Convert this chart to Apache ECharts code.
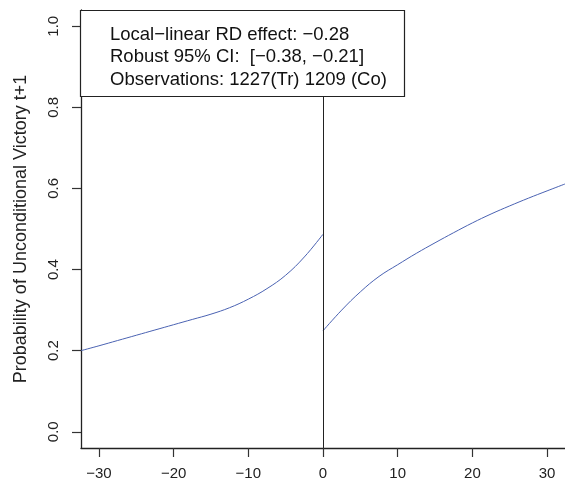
<!DOCTYPE html>
<html>
<head>
<meta charset="utf-8">
<script src="https://cdn.jsdelivr.net/npm/echarts@6/dist/echarts.min.js"></script>
<style>
  html, body { margin: 0; padding: 0; background: #fff; }
  #main { width: 565px; height: 487px; }
</style>
</head>
<body>
<div id="main"></div>
<script>
// fitted curves
var leftX = [-32.4, -30, -27.5, -25, -22.5, -20, -17.5, -15, -12.5, -10, -7.5, -5, -2.5, 0];
var leftY = [0.200, 0.212, 0.225, 0.238, 0.251, 0.264, 0.277, 0.290, 0.306, 0.327, 0.353, 0.386, 0.431, 0.487];
var rightX = [0, 2.5, 5, 7.5, 10, 12.5, 15, 17.5, 20, 22.5, 25, 27.5, 30, 32.4];
var rightY = [0.249, 0.300, 0.345, 0.383, 0.412, 0.440, 0.466, 0.491, 0.515, 0.537, 0.557, 0.576, 0.594, 0.611];

var xTicks = [-30, -20, -10, 0, 10, 20, 30];
var yTicks = [0, 0.2, 0.4, 0.6, 0.8, 1.0];

var boxLines = [
    'Local\u2212linear RD effect: \u22120.28',
    'Robust 95% CI:  [\u22120.38, \u22120.21]',
    'Observations: 1227(Tr) 1209 (Co)'
];

function pairs(xs, ys) {
    var out = [];
    for (var i = 0; i < xs.length; i++) out.push([xs[i], ys[i]]);
    return out;
}

var font = 'Liberation Sans, Arial, sans-serif';
var myChart = echarts.init(document.getElementById('main'));

function boxText(i, y) {
    return {
        type: 'text', x: 110, y: y, z: 101,
        style: { text: boxLines[i], font: '18.5px ' + font, fill: '#111', textVerticalAlign: 'middle' }
    };
}

var option = {
    animation: false,
    grid: { left: 81, top: 10, width: 488, bottom: 39, containLabel: false },
    xAxis: {
        type: 'value',
        min: -32.4, max: 32.4,
        axisLine: { show: true, onZero: false, lineStyle: { color: '#222', width: 1.3 } },
        axisTick: { show: true, length: 9, customValues: xTicks, lineStyle: { color: '#333', width: 1.2 } },
        axisLabel: {
            customValues: xTicks, margin: 18, color: '#222',
            fontFamily: font, fontSize: 15,
            formatter: function (v) { return String(v).replace('-', '\u2212'); }
        },
        splitLine: { show: false }
    },
    yAxis: {
        type: 'value',
        min: -0.04, max: 1.04,
        name: 'Probability of Unconditional Victory t+1',
        nameLocation: 'middle', nameGap: 51,
        nameTextStyle: { fontFamily: font, fontSize: 18, color: '#222' },
        axisLine: { show: true, onZero: false, lineStyle: { color: '#222', width: 1.3 } },
        axisTick: { show: true, length: 9, customValues: yTicks, lineStyle: { color: '#333', width: 1.2 } },
        axisLabel: {
            customValues: yTicks, rotate: 90, margin: 20, color: '#222',
            fontFamily: font, fontSize: 15,
            formatter: function (v) { return v.toFixed(1); }
        },
        splitLine: { show: false }
    },
    series: [
        {
            type: 'line', data: pairs(leftX, leftY), smooth: 0.4,
            showSymbol: false, lineStyle: { color: '#4a62b2', width: 1 },
            markLine: {
                silent: true, symbol: 'none', label: { show: false },
                lineStyle: { color: '#222', width: 1, type: 'solid' },
                data: [{ xAxis: 0 }]
            }
        },
        {
            type: 'line', data: pairs(rightX, rightY), smooth: 0.4,
            showSymbol: false, lineStyle: { color: '#4a62b2', width: 1 }
        }
    ],
    graphic: [
        {
            type: 'rect', z: 100,
            shape: { x: 80.5, y: 10.5, width: 324, height: 86 },
            style: { fill: '#fff', stroke: '#222', lineWidth: 1.2 }
        },
        boxText(0, 35),
        boxText(1, 57),
        boxText(2, 80)
    ]
};

myChart.setOption(option);
</script>
</body>
</html>
